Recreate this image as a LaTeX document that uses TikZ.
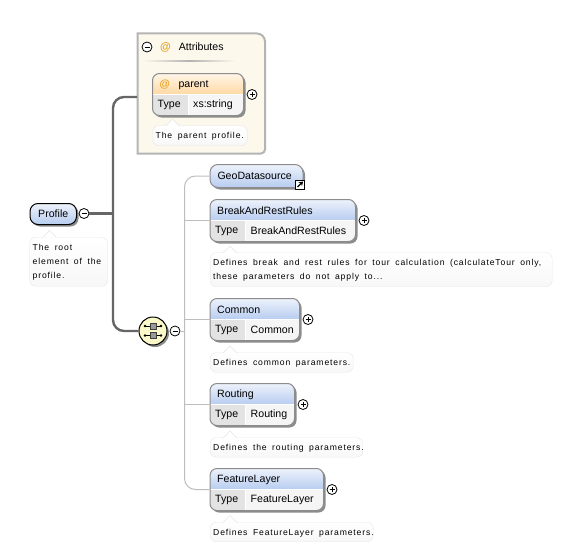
\documentclass[tikz,border=0pt]{standalone}
\usepackage{fontspec}
\setsansfont{Liberation Sans}
\newfontfamily\tipfont[LetterSpace=10,WordSpace=1.7]{Liberation Sans}
\usetikzlibrary{arrows.meta,calc,positioning,shadows}
\definecolor{headblue}{HTML}{B7CCF0}
\definecolor{headorange}{HTML}{FFD9A3}
\definecolor{attrfill}{HTML}{FDF8EC}
\definecolor{framegray}{HTML}{B4B4B4}
\definecolor{boxgray}{HTML}{8C8C8C}
\definecolor{linegray}{HTML}{666666}
\definecolor{treegray}{HTML}{BDBDBD}
\definecolor{tipline}{HTML}{E6E6E6}
\definecolor{seqfill}{HTML}{FBF8C9}
\definecolor{atorange}{HTML}{E8A020}
\tikzset{
  hardshadow/.style={drop shadow={shadow xshift=2pt,shadow yshift=-2pt,fill=black!45,opacity=1}},
  elembox/.style={draw=boxgray, line width=1pt, rounded corners=7pt, hardshadow, anchor=north west, inner sep=0pt},
  labeltext/.style={font=\sffamily\fontsize{10.6}{12}\selectfont, anchor=west, inner sep=0pt},
  tipbox/.style={draw=tipline, rounded corners=6pt, top color=white, bottom color=black!3, anchor=north west, inner sep=0pt},
  tiptext/.style={anchor=west, inner sep=0pt, align=left, font=\tipfont\fontsize{8.6}{14}\selectfont},
  togglemark/.style={circle, draw=black, fill=white, line width=.8pt, minimum size=10pt, inner sep=0pt},
  minusmark/.style={togglemark, path picture={\draw ([xshift=-2.5pt]path picture bounding box.center) -- ([xshift=2.5pt]path picture bounding box.center);}},
  plusmark/.style={togglemark, path picture={
    \draw ([xshift=-2.5pt]path picture bounding box.center) -- ([xshift=2.5pt]path picture bounding box.center);
    \draw ([yshift=-2.5pt]path picture bounding box.center) -- ([yshift=2.5pt]path picture bounding box.center);}},
  thickline/.style={draw=linegray, line width=2.4pt, rounded corners=11pt},
  treeline/.style={draw=treegray, line width=1pt, rounded corners=11pt},
}
% name, x, y, width, title, type, head colour
\newcommand{\typedbox}[8][35.5]{%
  \node[elembox, minimum width=#5 pt, minimum height=42pt, path picture={
    \begin{scope}[sharp corners]
    \shade[top color=#8!25!white, bottom color=#8] (path picture bounding box.north west) rectangle ([yshift=-21pt]path picture bounding box.north east);
    \fill[black!4] ([yshift=21pt]path picture bounding box.south west) rectangle (path picture bounding box.south east);
    \fill[black!11] (path picture bounding box.south west) rectangle ([xshift=#1 pt,yshift=21pt]path picture bounding box.south west);
    \draw[white, line width=1pt] ([yshift=-21pt]path picture bounding box.north west) -- ([yshift=-21pt]path picture bounding box.north east);
    \draw[white, line width=1pt] ([xshift=#1 pt]path picture bounding box.south west) -- ([xshift=#1 pt,yshift=21pt]path picture bounding box.south west);
    \end{scope}
  }] (#2) at (#3,#4) {};
  \node[labeltext] (#2-title) at ($(#2.north west)+(7.5,11.8)$) {#6};
  \node[labeltext] (#2-key) at ($(#2.north west)+(5.5,32)$) {Type};
  \node[labeltext] (#2-type) at ($(#2.north west)+(#1+5.5,32)$) {#7};
  \node[plusmark] (#2-plus) at ($(#2.east)+(8,0)$) {};
}
% name, x, y, width, height, text
\newcommand{\tipnote}[6]{%
  \node[tipbox, minimum width=#4 pt, minimum height=#5 pt] (#1) at (#2,#3) {};
  \filldraw[draw=tipline, fill=white] ($(#1.north west)+(13,0.5)$) -- ++(7,-7) -- ++(7,7);
  \node[tiptext] (#1-text) at ($(#1.west)+(3,1)$) {#6};
}
\begin{document}
\begin{tikzpicture}[x=1pt, y=-1pt]
  \useasboundingbox (0,0) rectangle (578,551);
  % attributes
  \draw[draw=framegray, fill=attrfill, line width=2pt] (137.5,153.5) [sharp corners] -- (137.5,33.5) [rounded corners=8pt] -- (265,33.5) [rounded corners=4pt] -- (265,153.5) [sharp corners] -- cycle;
  \coordinate (attrs-in) at (137,97);
  \node[minusmark] (attrs-minus) at (147,47) {};
  \node[labeltext, text=atorange, font=\sffamily\bfseries\fontsize{11}{12}\selectfont] (attrs-at) at (160,47) {@};
  \node[labeltext, right=7.5pt of attrs-at] (attrs-title) {Attributes};
  \shade[left color=attrfill, right color=attrfill, middle color=black!30] (143,60.5) rectangle (235,62);
  \typedbox{parent}{152}{73}{91}{\textcolor{atorange}{\textbf{@}}\hspace{8.5pt}parent}{xs:string}{headorange}
  \tipnote{parent-tip}{152.5}{125.5}{94.5}{20}{The parent profile.}

  % root element
  \node[elembox, draw=black, minimum width=46.5pt, minimum height=21pt, top color=headblue!25!white, bottom color=headblue, rounded corners=8pt, font=\sffamily\fontsize{10.6}{12}\selectfont] (profile) at (29.5,203) {Profile};
  \node[minusmark] (profile-minus) at (84,213.5) {};
  \tipnote{profile-tip}{29.5}{237}{78}{49}{The root\\element of the\\profile.}

  % sequence
  \node[circle, draw=black, fill=seqfill, line width=1pt, minimum size=28pt, inner sep=0pt, hardshadow] (seq) at (153,331) {};
  \begin{scope}[shift={(seq.center)}]
    \foreach \row in {-5,4.5} {
      \draw[line width=1pt] (-8,\row) -- (8,\row);
      \fill (-8,\row) circle (1.3pt) (8,\row) circle (1.3pt);
      \filldraw[draw=black!75, fill=black!40] (-3,\row-3) rectangle (3,\row+3);
    }
  \end{scope}
  \node[minusmark] (seq-minus) at (175,331) {};
  \draw[thickline] (profile-minus.east) -- (113,213.5);
  \draw[thickline] (attrs-in) -| (113,213.5) |- (seq.west);

  % children
  \node[elembox, minimum width=93pt, minimum height=23pt, top color=headblue!25!white, bottom color=headblue, rounded corners=8pt, inner xsep=7.5pt, text width=78pt, align=left, font=\sffamily\fontsize{10.6}{12}\selectfont] (geo) at (209.5,164) {GeoDatasource};
  \node[draw=black, fill=white, line width=1pt, minimum size=9pt, inner sep=0pt, path picture={
    \draw[line width=1.2pt, -{Stealth[length=4pt,width=5pt]}] ([xshift=-2.5pt,yshift=-2.5pt]path picture bounding box.center) -- ([xshift=3pt,yshift=3pt]path picture bounding box.center);}] (geo-link) at (300,184.5) {};
  \typedbox{breakrest}{209.5}{199}{145.5}{BreakAndRestRules}{BreakAndRestRules}{headblue}
  \tipnote{breakrest-tip}{210}{252.5}{342}{34}{Defines break and rest rules for tour calculation (calculateTour only,\\these parameters do not apply to...}
  \typedbox{common}{209.5}{298}{89.5}{Common}{Common}{headblue}
  \tipnote{common-tip}{210}{352.5}{143}{19.5}{Defines common parameters.}
  \typedbox{routing}{209.5}{383}{84.5}{Routing}{Routing}{headblue}
  \tipnote{routing-tip}{210}{437.5}{152.5}{19.5}{Defines the routing parameters.}
  \typedbox{feature}{209.5}{468}{113.5}{FeatureLayer}{FeatureLayer}{headblue}
  \tipnote{feature-tip}{210}{522}{163}{19.5}{Defines FeatureLayer parameters.}

  \coordinate (trunk) at (184.5,331);
  \draw[treeline] (geo.west) -| (trunk) |- (feature.west);
  \draw[treeline] (seq-minus.east) -- (trunk);
  \foreach \child in {breakrest,common,routing} {
    \draw[treeline] (\child.west) -- (\child.west -| trunk);
  }
\end{tikzpicture}
\end{document}
